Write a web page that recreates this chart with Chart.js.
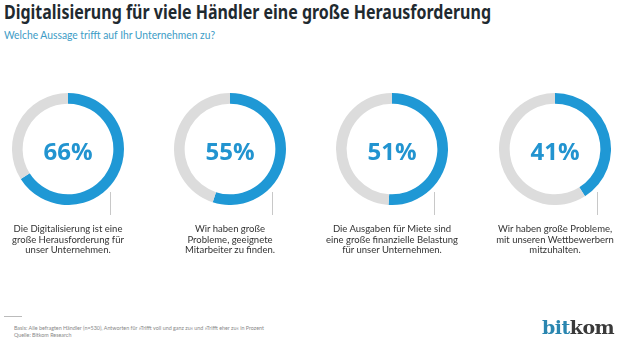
<!DOCTYPE html>
<html lang="de">
<head>
<meta charset="utf-8">
<script src="https://cdn.jsdelivr.net/npm/chart.js@4"></script>
<style>
  body { margin: 0; background: #fff; }
  #page { position: relative; width: 620px; height: 342px; overflow: hidden; font-family: Lato, sans-serif; }
  h1 { position: absolute; left: 4px; top: 0px; margin: 0; font-family: "Noto Sans", sans-serif; font-size: 19px; line-height: 24px; font-weight: 700; color: #1f2a30; white-space: nowrap; transform-origin: 0 0; }
  .sub { position: absolute; left: 4px; top: 28px; font-size: 12px; line-height: 14px; color: #3d9cc6; white-space: nowrap; transform-origin: 0 0; }
  .ring { position: absolute; top: 93px; width: 112px; height: 112px; }
  .pct { position: absolute; top: 136px; width: 112px; text-align: center; font-family: "Open Sans", sans-serif; font-size: 24px; font-weight: 700; color: #2294d0; line-height: 30px; }
  .tick { position: absolute; top: 192px; width: 1px; height: 23px; background: #c8c8c8; }
  .lbl { position: absolute; top: 224px; width: 150px; text-align: center; font-size: 9.5px; line-height: 10.5px; color: #333; }
  .foot-line { position: absolute; left: 4px; top: 316px; width: 18px; height: 1px; background: #bbb; }
  .foot { position: absolute; left: 4px; top: 324px; font-size: 5.8px; line-height: 7px; color: #888; white-space: nowrap; }
  .logo { position: absolute; left: 542px; top: 315px; font-family: "DejaVu Serif", serif; font-weight: 700; font-size: 19px; line-height: 24px; color: #3a3a3a; letter-spacing: -0.5px; white-space: nowrap; }
  .logo span { color: #2a86b0; }
</style>
</head>
<body>
<div id="page">
  <h1 id="title">Digitalisierung für viele Händler eine große Herausforderung</h1>
  <div class="sub" id="sub">Welche Aussage trifft auf Ihr Unternehmen zu?</div>
  <div id="rings"></div>
  <div class="foot-line"></div>
  <div class="foot" id="foot">Basis: Alle befragten Händler (n=530), Antworten für »Trifft voll und ganz zu« und »Trifft eher zu« in Prozent<br>Quelle: Bitkom Research</div>
  <div class="logo"><span>bit</span>kom</div>
</div>
<script>
const values = [66, 55, 51, 41];
const labels = [
  ['Die Digitalisierung ist eine', 'große Herausforderung für', 'unser Unternehmen.'],
  ['Wir haben große', 'Probleme, geeignete', 'Mitarbeiter zu finden.'],
  ['Die Ausgaben für Miete sind', 'eine große finanzielle Belastung', 'für unser Unternehmen.'],
  ['Wir haben große Probleme,', 'mit unseren Wettbewerbern', 'mitzuhalten.']
];
const centers = [68, 230, 392, 555];

// squeeze header texts to the width they have in the original
function fitWidth(id, w) {
  const el = document.getElementById(id);
  const cur = el.getBoundingClientRect().width;
  el.style.transform = 'scaleX(' + (w / cur) + ')';
}
fitWidth('title', 487);
fitWidth('sub', 211);
fitWidth('foot', 250);

const wrap = document.getElementById('rings');

values.forEach((v, i) => {
  const cx = centers[i];

  const box = document.createElement('div');
  box.className = 'ring';
  box.style.left = (cx - 56) + 'px';
  const cv = document.createElement('canvas');
  cv.width = 112; cv.height = 112;
  box.appendChild(cv);
  wrap.appendChild(box);

  const pct = document.createElement('div');
  pct.className = 'pct';
  pct.style.left = (cx - 56) + 'px';
  pct.textContent = v + '%';
  wrap.appendChild(pct);

  const tick = document.createElement('div');
  tick.className = 'tick';
  tick.style.left = (cx + 42) + 'px';
  wrap.appendChild(tick);

  const lbl = document.createElement('div');
  lbl.className = 'lbl';
  lbl.style.left = (cx - 75) + 'px';
  lbl.innerHTML = labels[i].join('<br>');
  wrap.appendChild(lbl);

  new Chart(cv, {
    type: 'doughnut',
    data: {
      labels: ['Ja', 'Rest'],
      datasets: [{
        data: [v, 100 - v],
        backgroundColor: ['#1f98d5', '#dcdcdc'],
        borderWidth: 0
      }]
    },
    options: {
      responsive: false,
      animation: false,
      cutout: '81%',
      plugins: { legend: { display: false }, tooltip: { enabled: false } }
    }
  });
});
</script>
</body>
</html>
